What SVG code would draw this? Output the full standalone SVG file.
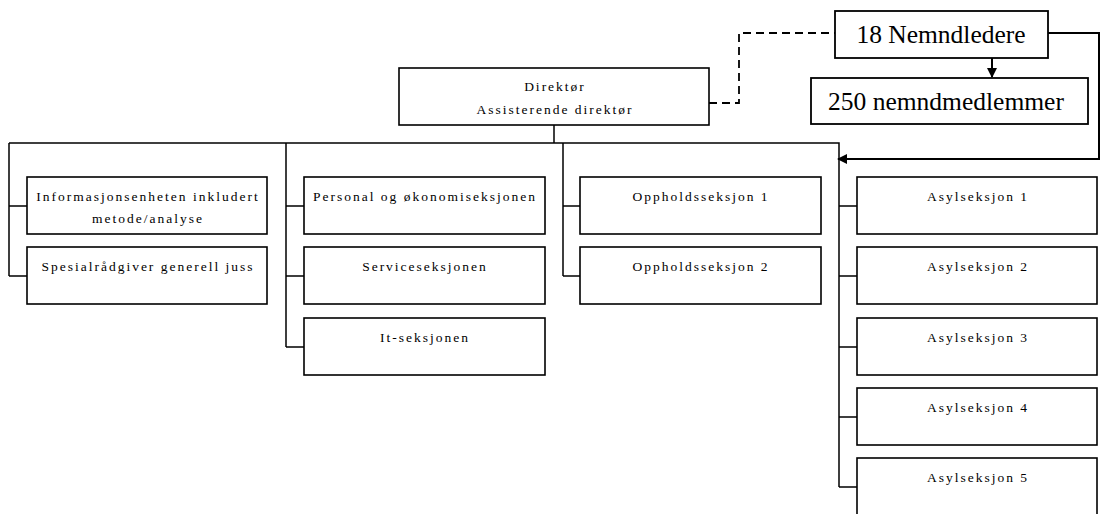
<svg xmlns="http://www.w3.org/2000/svg" width="1101" height="514" viewBox="0 0 1101 514">
<style>
.box{fill:#fff;stroke:#000;stroke-width:1.6}
.big{fill:#fff;stroke:#000;stroke-width:1.8}
.t{font-family:"Liberation Serif","Times New Roman",serif;font-size:13.5px;letter-spacing:2px;text-anchor:middle;fill:#000}
.tb{font-family:"Liberation Serif","Times New Roman",serif;font-size:25.5px;text-anchor:middle;fill:#000}
.c{fill:none;stroke:#000;stroke-width:1.5}
.ca{fill:none;stroke:#000;stroke-width:2}
.d{fill:none;stroke:#000;stroke-width:1.8;stroke-dasharray:8,5}
</style>
<defs>
<marker id="ah" markerWidth="10" markerHeight="10" refX="9" refY="5" orient="auto" markerUnits="userSpaceOnUse">
<path d="M0,0 L10,5 L0,10 Z" fill="#000"/>
</marker>
</defs>
<rect width="1101" height="514" fill="#fff"/>
<g id="connectors">
<path class="d" d="M709,103 H739 V33 H835"/>
<path class="ca" d="M992,58 V77" marker-end="url(#ah)"/>
<path class="ca" d="M1048,33 H1099 V159 H838" marker-end="url(#ah)"/>
<path class="c" d="M554,125 V143"/>
<path class="c" d="M9,143 H839 V487"/>
<path class="c" d="M9,143 V276 M9,206 H27 M9,276 H27"/>
<path class="c" d="M286,143 V347 M286,206 H304 M286,276 H304 M286,347 H304"/>
<path class="c" d="M563,143 V276 M563,206 H580 M563,276 H580"/>
<path class="c" d="M839,206 H857 M839,276 H857 M839,347 H857 M839,417 H857 M839,487 H857"/>
</g>
<g id="direktor"><rect class="box" x="399" y="68" width="310" height="57"/><text class="t" x="555" y="91">Direktør</text><text class="t" x="555" y="114">Assisterende direktør</text></g>
<g id="nemndledere"><rect class="big" x="835" y="11" width="213" height="47"/><text class="tb" x="941" y="43">18 Nemndledere</text></g>
<g id="nemndmedlemmer"><rect class="big" x="811" y="78" width="277" height="46"/><text class="tb" x="946" y="110">250 nemndmedlemmer</text></g>
<g id="info"><rect class="box" x="27" y="177" width="240" height="57"/><text class="t" x="148" y="201">Informasjonsenheten inkludert</text><text class="t" x="148" y="223">metode/analyse</text></g>
<g id="spesial"><rect class="box" x="27" y="247" width="240" height="57"/><text class="t" x="148" y="271">Spesialrådgiver generell juss</text></g>
<g id="personal"><rect class="box" x="304" y="177" width="241" height="57"/><text class="t" x="425" y="201">Personal og økonomiseksjonen</text></g>
<g id="service"><rect class="box" x="304" y="247" width="241" height="57"/><text class="t" x="425" y="271">Serviceseksjonen</text></g>
<g id="it"><rect class="box" x="304" y="318" width="241" height="57"/><text class="t" x="425" y="342">It-seksjonen</text></g>
<g id="opphold1"><rect class="box" x="580" y="177" width="241" height="57"/><text class="t" x="701" y="201">Oppholdsseksjon 1</text></g>
<g id="opphold2"><rect class="box" x="580" y="247" width="241" height="57"/><text class="t" x="701" y="271">Oppholdsseksjon 2</text></g>
<g id="asyl1"><rect class="box" x="857" y="177" width="240" height="57"/><text class="t" x="978" y="201">Asylseksjon 1</text></g>
<g id="asyl2"><rect class="box" x="857" y="247" width="240" height="57"/><text class="t" x="978" y="271">Asylseksjon 2</text></g>
<g id="asyl3"><rect class="box" x="857" y="318" width="240" height="57"/><text class="t" x="978" y="342">Asylseksjon 3</text></g>
<g id="asyl4"><rect class="box" x="857" y="388" width="240" height="57"/><text class="t" x="978" y="412">Asylseksjon 4</text></g>
<g id="asyl5"><rect class="box" x="857" y="458" width="240" height="58"/><text class="t" x="978" y="482">Asylseksjon 5</text></g>
</svg>
